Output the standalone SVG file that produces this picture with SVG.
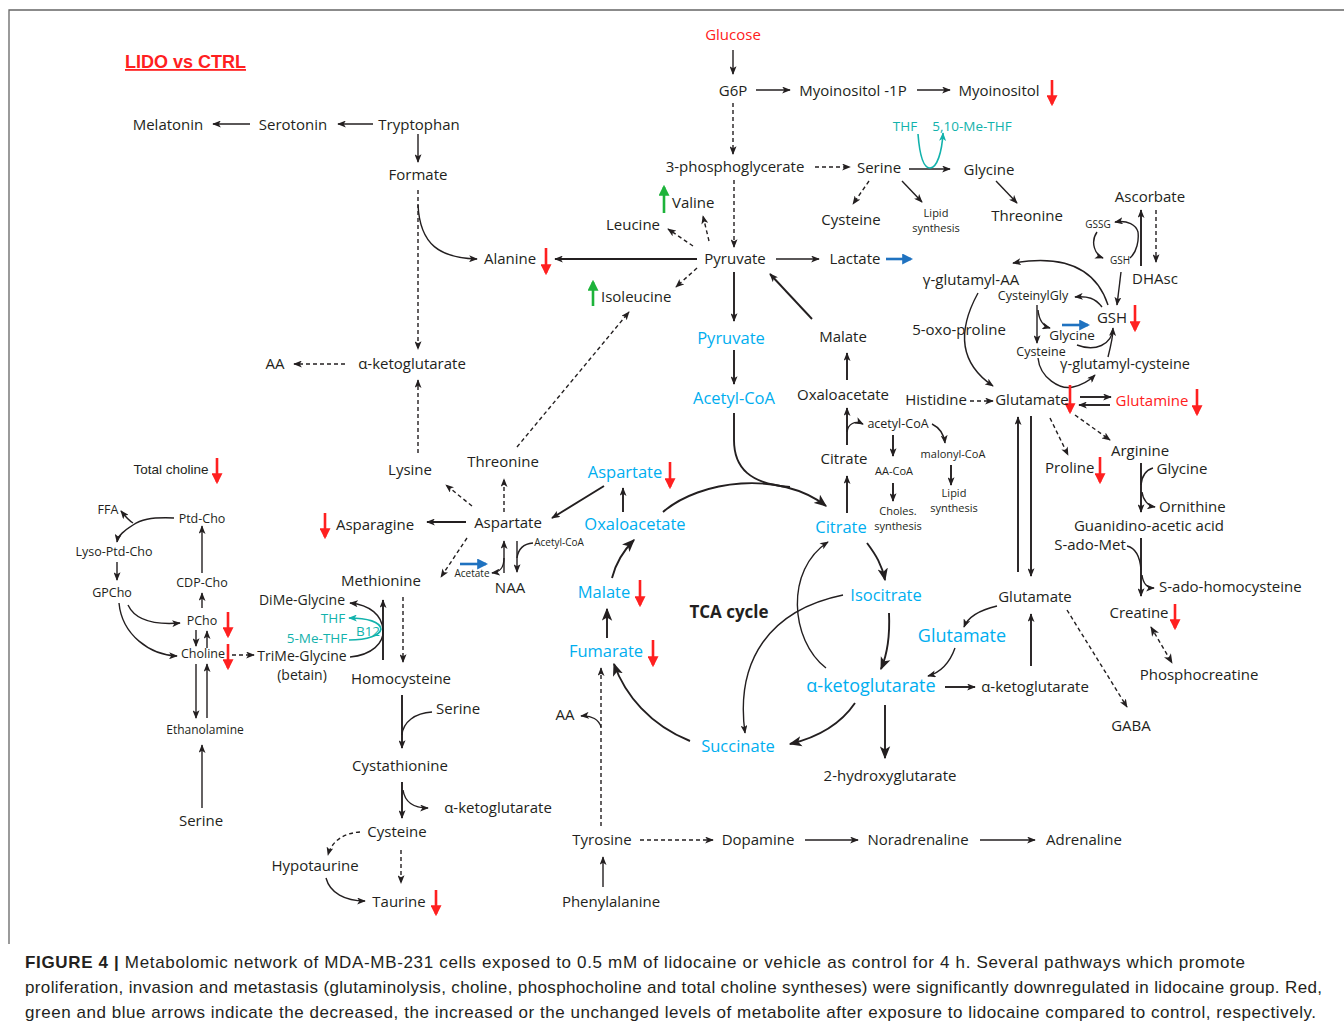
<svg xmlns="http://www.w3.org/2000/svg" width="1344" height="1027" viewBox="0 0 1344 1027">
<style>
text{font-family:"Open Sans","Noto Sans",sans-serif;font-size:15px;fill:#231f20;text-anchor:middle}
.s{font-size:12.5px}.xs{font-size:11px}.xxs{font-size:10px}
.c{fill:#00aeef;font-size:16.5px}.cb{fill:#00aeef;font-size:18px}
.r{fill:#ff2020}.tl{fill:#12b2ac;font-size:13.5px}
.st{text-anchor:start}
.cap{font-family:"Liberation Sans",Arial,sans-serif;font-size:17px;text-anchor:start}
.l{fill:none;stroke:#231f20;stroke-width:1.4}
.k{fill:none;stroke:#231f20;stroke-width:1.9}
.d{stroke-dasharray:4,3}
.red{fill:none;stroke:#ff2020;stroke-width:2.6}
.grn{fill:none;stroke:#1db33a;stroke-width:2.6}
.blu{fill:none;stroke:#1f72c0;stroke-width:2.6}
.tea{fill:none;stroke:#12b2ac;stroke-width:1.6}
</style>
<defs>
<marker id="a" viewBox="0 0 10 8" refX="9" refY="4" markerWidth="9" markerHeight="7" markerUnits="userSpaceOnUse" orient="auto"><path d="M0,0L10,4L0,8L2.5,4z" fill="#231f20"/></marker>
<marker id="as" viewBox="0 0 10 8" refX="9" refY="4" markerWidth="10" markerHeight="8" markerUnits="userSpaceOnUse" orient="auto-start-reverse"><path d="M0,0L10,4L0,8L2.5,4z" fill="#231f20"/></marker>
<marker id="aL" viewBox="0 0 10 8" refX="9" refY="4" markerWidth="13" markerHeight="11" markerUnits="userSpaceOnUse" orient="auto"><path d="M0,0L10,4L0,8L2.5,4z" fill="#231f20"/></marker>
<marker id="ar" viewBox="0 0 10 10" refX="8" refY="5" markerWidth="11" markerHeight="11" markerUnits="userSpaceOnUse" orient="auto"><path d="M0,0L10,5L0,10z" fill="#ff2020"/></marker>
<marker id="ag" viewBox="0 0 10 10" refX="8" refY="5" markerWidth="11" markerHeight="11" markerUnits="userSpaceOnUse" orient="auto"><path d="M0,0L10,5L0,10z" fill="#1db33a"/></marker>
<marker id="ab" viewBox="0 0 10 10" refX="8" refY="5" markerWidth="11" markerHeight="11" markerUnits="userSpaceOnUse" orient="auto"><path d="M0,0L10,5L0,10z" fill="#1f72c0"/></marker>
<marker id="at" viewBox="0 0 10 8" refX="9" refY="4" markerWidth="9" markerHeight="7" markerUnits="userSpaceOnUse" orient="auto"><path d="M0,0L10,4L0,8L2.5,4z" fill="#12b2ac"/></marker>
</defs>
<rect width="1344" height="1027" fill="#fff"/>
<path d="M9,944V10H1344" fill="none" stroke="#666" stroke-width="1.3"/>
<g id="title"><text x="125" y="68" class="st" style="font-family:'Liberation Sans',Arial,sans-serif;font-size:18px;font-weight:bold;fill:#ff2020;text-decoration:underline">LIDO vs CTRL</text></g>

<g id="connectors">
<path class="l" marker-end="url(#a)" d="M250,124H213"/>
<path class="l" marker-end="url(#a)" d="M373,124H338"/>
<path class="l" marker-end="url(#a)" d="M418,134V162"/>
<path class="l d" marker-end="url(#a)" d="M418,190V349"/>
<path class="l" marker-end="url(#a)" d="M418,205C420,245 440,258 477,259"/>
<path class="l d" marker-end="url(#a)" d="M345,364H294"/>
<path class="l d" marker-end="url(#a)" d="M418,453V380"/>
<path class="l" marker-end="url(#a)" d="M733,50V74"/>
<path class="l" marker-end="url(#a)" d="M756,90H790"/>
<path class="l" marker-end="url(#a)" d="M917,90H950"/>
<path class="l d" marker-end="url(#a)" d="M733,103V154"/>
<path class="l d" marker-end="url(#a)" d="M815,167H850"/>
<path class="l d" marker-end="url(#a)" d="M734,180V247"/>
<path class="l" marker-end="url(#a)" d="M909,169H950"/>
<path class="tea" marker-end="url(#at)" d="M918,134C920,160 925,168 930,168C937,168 942,152 943,133"/>
<path class="l d" marker-end="url(#a)" d="M869,181L853,204"/>
<path class="l" marker-end="url(#a)" d="M902,181L922,202"/>
<path class="l" marker-end="url(#a)" d="M996,181L1017,203"/>
<path class="l d" marker-end="url(#a)" d="M693,246L668,229"/>
<path class="l d" marker-end="url(#a)" d="M709,241L703,216"/>
<path class="l d" marker-end="url(#a)" d="M697,268L676,287"/>
<path class="k" marker-end="url(#a)" d="M697,259H555"/>
<path class="l" marker-end="url(#a)" d="M776,259H819"/>
<path class="blu" marker-end="url(#ab)" d="M886,259H911"/>
<path class="k" marker-end="url(#a)" d="M812,319L770,274"/>
<path class="k" marker-end="url(#a)" d="M734,272V321"/>
<path class="k" marker-end="url(#a)" d="M734,350V384"/>
<path class="k" d="M734,413V440C734,468 750,484 790,487"/>
<path class="k" marker-end="url(#aL)" d="M663,512C700,480 780,470 826,506"/>
<path class="k" marker-end="url(#a)" d="M847,380V353"/>
<path class="k" marker-end="url(#a)" d="M847,445V408"/>
<path class="l" marker-end="url(#a)" d="M847,432C848,424 855,420 863,424"/>
<path class="l" marker-end="url(#a)" d="M932,424C940,428 944,434 945,443"/>
<path class="k" marker-end="url(#a)" d="M893,435V456"/>
<path class="k" marker-end="url(#a)" d="M893,483V501"/>
<path class="k" marker-end="url(#a)" d="M951,465V485"/>
<path class="k" marker-end="url(#a)" d="M847,513V476"/>
<path class="k" marker-end="url(#aL)" d="M867,543C876,555 882,565 885,580"/>
<path class="k" marker-end="url(#aL)" d="M889,613C890,635 887,655 881,669"/>
<path class="l" marker-end="url(#a)" d="M826,668C790,640 785,570 828,542"/>
<path class="l" marker-end="url(#a)" d="M843,595C770,610 735,660 745,733"/>
<path class="k" marker-end="url(#aL)" d="M855,703C840,725 815,738 790,744"/>
<path class="k" marker-end="url(#aL)" d="M885,705V758"/>
<path class="k" marker-end="url(#aL)" d="M690,741C650,725 625,695 614,664"/>
<path class="k" marker-end="url(#aL)" d="M607,638V609"/>
<path class="k" marker-end="url(#aL)" d="M612,578C616,562 624,550 634,540"/>
<path class="k" marker-end="url(#a)" d="M623,512V488"/>
<path class="k" marker-end="url(#a)" d="M604,486L552,518"/>
<path class="k" marker-end="url(#a)" d="M466,522H427"/>
<path class="l d" marker-end="url(#a)" d="M504,512V479"/>
<path class="l d" marker-end="url(#a)" d="M517,447L629,312"/>
<path class="l d" marker-end="url(#a)" d="M472,506L446,485"/>
<path class="l d" marker-end="url(#a)" d="M467,538L441,577"/>
<path class="l" marker-end="url(#a)" d="M504,573V541"/>
<path class="l" marker-end="url(#a)" d="M517,541V572"/>
<path class="l" d="M533,543C522,544 518,550 517,558"/>
<path class="l" marker-end="url(#a)" d="M504,558C504,568 500,572 492,573"/>
<path class="blu" marker-end="url(#ab)" d="M460,564H486"/>
<path class="l d" marker-end="url(#a)" d="M403,597V662"/>
<path class="k" marker-end="url(#a)" d="M383,660V600"/>
<path class="l" marker-end="url(#a)" d="M350,657C372,655 384,643 383,630C382,615 370,605 350,603"/>
<path class="tea" marker-end="url(#at)" d="M349,640C368,640 380,635 381,629C380,622 368,618 349,618"/>
<path class="k" marker-end="url(#a)" d="M402,695V748"/>
<path class="l" d="M432,712C415,713 403,722 402,735"/>
<path class="k" marker-end="url(#a)" d="M402,782V818"/>
<path class="l" marker-end="url(#a)" d="M403,790C405,803 415,808 428,808"/>
<path class="l d" marker-end="url(#a)" d="M360,832C345,833 332,840 328,855"/>
<path class="l d" marker-end="url(#a)" d="M401,850V883"/>
<path class="l" marker-end="url(#a)" d="M326,878C330,893 345,901 365,901"/>
<path class="l d" marker-end="url(#a)" d="M601,826V668"/>
<path class="l" marker-end="url(#a)" d="M601,727C599,720 592,715 581,716"/>
<path class="l d" marker-end="url(#a)" d="M640,840H713"/>
<path class="l" marker-end="url(#a)" d="M805,840H858"/>
<path class="l" marker-end="url(#a)" d="M980,840H1035"/>
<path class="l" marker-end="url(#a)" d="M603,887V857"/>
<path class="l" marker-end="url(#a)" d="M174,518C150,517 140,520 133,525C125,530 118,535 117,542"/>
<path class="l" marker-end="url(#a)" d="M133,523C128,520 125,516 121,511"/>
<path class="l" marker-end="url(#a)" d="M117,562V580"/>
<path class="l" marker-end="url(#a)" d="M128,605C135,620 155,625 180,623"/>
<path class="l" marker-end="url(#a)" d="M119,603C122,635 150,655 177,656"/>
<path class="l" marker-end="url(#a)" d="M202,608V593"/>
<path class="l" marker-end="url(#a)" d="M202,573V526"/>
<path class="l" marker-end="url(#a)" d="M196,630V646"/>
<path class="l" marker-end="url(#a)" d="M207,648V631"/>
<path class="l" marker-end="url(#a)" d="M196,664V718"/>
<path class="l" marker-end="url(#a)" d="M207,718V664"/>
<path class="l" marker-end="url(#a)" d="M202,808V745"/>
<path class="l d" marker-end="url(#a)" d="M232,655H254"/>
<path class="l d" marker-end="url(#a)" d="M970,401H993"/>
<path class="k" marker-end="url(#a)" d="M1080,397H1111"/>
<path class="k" marker-end="url(#a)" d="M1110,405H1079"/>
<path class="l d" marker-end="url(#a)" d="M1050,418L1068,455"/>
<path class="l d" marker-end="url(#a)" d="M1075,415L1110,440"/>
<path class="k" marker-end="url(#a)" d="M1141,463V512"/>
<path class="l" d="M1153,468C1146,470 1142,475 1141,485"/>
<path class="l" marker-end="url(#a)" d="M1142,492C1143,500 1148,506 1155,507"/>
<path class="k" marker-end="url(#a)" d="M1141,538V596"/>
<path class="l" d="M1127,546C1135,548 1140,555 1141,570"/>
<path class="l" marker-end="url(#a)" d="M1142,575C1143,583 1147,588 1154,588"/>
<path class="l d" marker-start="url(#as)" marker-end="url(#as)" d="M1151,627L1172,663"/>
<path class="k" marker-end="url(#a)" d="M1018,572V417"/>
<path class="k" marker-end="url(#a)" d="M1031,416V576"/>
<path class="l" marker-end="url(#a)" d="M997,606C980,610 968,617 964,627"/>
<path class="l" marker-end="url(#a)" d="M955,648C950,662 942,672 928,676"/>
<path class="k" marker-end="url(#a)" d="M1031,666V614"/>
<path class="k" marker-end="url(#a)" d="M945,687H975"/>
<path class="l d" marker-end="url(#a)" d="M1067,610L1127,707"/>
<path class="l" marker-end="url(#a)" d="M1108,305C1095,265 1060,255 1013,263"/>
<path class="l" marker-end="url(#a)" d="M978,293C955,335 962,365 993,386"/>
<path class="l" marker-end="url(#a)" d="M1102,307C1095,298 1088,296 1075,297"/>
<path class="l" marker-end="url(#a)" d="M1037,305V343"/>
<path class="l" marker-end="url(#a)" d="M1038,310C1039,320 1043,326 1050,328"/>
<path class="l" marker-end="url(#a)" d="M1077,345C1095,352 1112,345 1113,328"/>
<path class="l" d="M1108,357C1111,345 1113,335 1113,330"/>
<path class="l" marker-end="url(#a)" d="M1038,358C1040,378 1060,390 1073,387C1082,385 1090,380 1095,375"/>
<path class="blu" marker-end="url(#ab)" d="M1062,325H1088"/>
<path class="l" marker-end="url(#a)" d="M1121,272L1117,305"/>
<path class="k" marker-end="url(#a)" d="M1141,266V210"/>
<path class="l d" marker-end="url(#a)" d="M1156,210V262"/>
<path class="l" marker-end="url(#a)" d="M1130,258C1137,252 1139,240 1138,232C1136,225 1128,220 1115,222"/>
<path class="l" marker-end="url(#a)" d="M1097,232C1090,242 1095,255 1103,258"/>
</g>

<g id="level-arrows">
<path class="red" marker-end="url(#ar)" d="M1052,80V104"/>
<path class="red" marker-end="url(#ar)" d="M546,248V273"/>
<path class="red" marker-end="url(#ar)" d="M217,458V482"/>
<path class="red" marker-end="url(#ar)" d="M670,462V487"/>
<path class="red" marker-end="url(#ar)" d="M325,513V537"/>
<path class="red" marker-end="url(#ar)" d="M640,580V605"/>
<path class="red" marker-end="url(#ar)" d="M653,640V665"/>
<path class="red" marker-end="url(#ar)" d="M228,612V636"/>
<path class="red" marker-end="url(#ar)" d="M228,644V668"/>
<path class="red" marker-end="url(#ar)" d="M436,890V914"/>
<path class="red" marker-end="url(#ar)" d="M1135,305V330"/>
<path class="red" marker-end="url(#ar)" d="M1070,385V412"/>
<path class="red" marker-end="url(#ar)" d="M1197,389V414"/>
<path class="red" marker-end="url(#ar)" d="M1100,457V482"/>
<path class="red" marker-end="url(#ar)" d="M1175,604V628"/>
<path class="grn" marker-end="url(#ag)" d="M664,213V187"/>
<path class="grn" marker-end="url(#ag)" d="M593,306V282"/>
</g>

<g id="n-melatonin"><text x="168" y="130">Melatonin</text></g>
<g id="n-serotonin"><text x="293" y="130">Serotonin</text></g>
<g id="n-tryptophan"><text x="419" y="130">Tryptophan</text></g>
<g id="n-formate"><text x="418" y="180">Formate</text></g>
<g id="n-akg1"><text x="412" y="369">α-ketoglutarate</text></g>
<g id="n-aa1"><text x="275" y="369">AA</text></g>
<g id="n-lysine"><text x="410" y="475">Lysine</text></g>
<g id="n-totalcholine"><text x="171" y="474" style="font-family:'Liberation Sans',Arial,sans-serif;font-size:13.5px">Total choline</text></g>
<g id="n-glucose"><text x="733" y="40" class="r">Glucose</text></g>
<g id="n-g6p"><text x="733" y="96">G6P</text></g>
<g id="n-myo1p"><text x="853" y="96">Myoinositol -1P</text></g>
<g id="n-myo"><text x="999" y="96">Myoinositol</text></g>
<g id="n-3pg"><text x="735" y="172">3-phosphoglycerate</text></g>
<g id="n-serine1"><text x="879" y="173">Serine</text></g>
<g id="n-glycine1"><text x="989" y="175">Glycine</text></g>
<g id="n-thf1"><text x="905" y="131" class="tl">THF</text></g>
<g id="n-mthf1"><text x="972" y="131" class="tl">5,10-Me-THF</text></g>
<g id="n-cysteine1"><text x="851" y="225">Cysteine</text></g>
<g id="n-lipid1"><text x="936" y="217" class="xs">Lipid</text><text x="936" y="232" class="xs">synthesis</text></g>
<g id="n-threonine1"><text x="1027" y="221">Threonine</text></g>
<g id="n-ascorbate"><text x="1150" y="202">Ascorbate</text></g>
<g id="n-gssg"><text x="1098" y="228" class="xxs">GSSG</text></g>
<g id="n-gsh-s"><text x="1120" y="264" class="xxs">GSH</text></g>
<g id="n-dhasc"><text x="1155" y="284">DHAsc</text></g>
<g id="n-valine"><text x="672" y="208" class="st">Valine</text></g>
<g id="n-leucine"><text x="633" y="230">Leucine</text></g>
<g id="n-alanine"><text x="510" y="264">Alanine</text></g>
<g id="n-pyruvate"><text x="735" y="264">Pyruvate</text></g>
<g id="n-lactate"><text x="855" y="264">Lactate</text></g>
<g id="n-isoleucine"><text x="601" y="302" class="st">Isoleucine</text></g>
<g id="n-ggaa"><text x="971" y="285">γ-glutamyl-AA</text></g>
<g id="n-cysgly"><text x="1033" y="300" class="s">CysteinylGly</text></g>
<g id="n-gsh"><text x="1112" y="323">GSH</text></g>
<g id="n-oxopro"><text x="959" y="335">5-oxo-proline</text></g>
<g id="n-glycine2"><text x="1072" y="340" style="font-size:13.5px">Glycine</text></g>
<g id="n-cysteine2"><text x="1041" y="356" class="s">Cysteine</text></g>
<g id="n-ggcys"><text x="1125" y="369" style="font-size:14.5px">γ-glutamyl-cysteine</text></g>
<g id="n-pyruvate-b"><text x="731" y="344" class="c">Pyruvate</text></g>
<g id="n-acetylcoa-b"><text x="734" y="404" class="c">Acetyl-CoA</text></g>
<g id="n-malate1"><text x="843" y="342">Malate</text></g>
<g id="n-oaa1"><text x="843" y="400">Oxaloacetate</text></g>
<g id="n-citrate1"><text x="844" y="464">Citrate</text></g>
<g id="n-acetylcoa-s"><text x="898" y="428" class="s">acetyl-CoA</text></g>
<g id="n-malonyl"><text x="953" y="458" class="xs">malonyl-CoA</text></g>
<g id="n-aacoa"><text x="894" y="475" class="xs">AA-CoA</text></g>
<g id="n-choles"><text x="898" y="515" class="xs">Choles.</text><text x="898" y="530" class="xs">synthesis</text></g>
<g id="n-lipid2"><text x="954" y="497" class="xs">Lipid</text><text x="954" y="512" class="xs">synthesis</text></g>
<g id="n-histidine"><text x="936" y="405">Histidine</text></g>
<g id="n-glutamate1"><text x="1032" y="405">Glutamate</text></g>
<g id="n-glutamine"><text x="1152" y="406" class="r">Glutamine</text></g>
<g id="n-proline"><text x="1045" y="473" class="st">Proline</text></g>
<g id="n-arginine"><text x="1140" y="456">Arginine</text></g>
<g id="n-glycine3"><text x="1182" y="474">Glycine</text></g>
<g id="n-ornithine"><text x="1159" y="512" class="st">Ornithine</text></g>
<g id="n-guan"><text x="1149" y="531">Guanidino-acetic acid</text></g>
<g id="n-sam"><text x="1090" y="550">S-ado-Met</text></g>
<g id="n-sah"><text x="1159" y="592" class="st">S-ado-homocysteine</text></g>
<g id="n-creatine"><text x="1139" y="618">Creatine</text></g>
<g id="n-pcreatine"><text x="1199" y="680">Phosphocreatine</text></g>
<g id="n-glutamate2"><text x="1035" y="602">Glutamate</text></g>
<g id="n-glutamate-b"><text x="962" y="642" class="cb">Glutamate</text></g>
<g id="n-akg3"><text x="1035" y="692">α-ketoglutarate</text></g>
<g id="n-gaba"><text x="1131" y="731">GABA</text></g>
<g id="n-threonine2"><text x="503" y="467">Threonine</text></g>
<g id="n-aspartate-b"><text x="625" y="478" class="c">Aspartate</text></g>
<g id="n-aspartate"><text x="508" y="528">Aspartate</text></g>
<g id="n-asparagine"><text x="375" y="530">Asparagine</text></g>
<g id="n-oaa-b"><text x="635" y="530" class="c">Oxaloacetate</text></g>
<g id="n-citrate-b"><text x="841" y="533" class="c">Citrate</text></g>
<g id="n-acetylcoa-s2"><text x="559" y="546" class="xxs">Acetyl-CoA</text></g>
<g id="n-acetate"><text x="472" y="577" class="xxs">Acetate</text></g>
<g id="n-naa"><text x="510" y="593">NAA</text></g>
<g id="n-methionine"><text x="381" y="586">Methionine</text></g>
<g id="n-dimegly"><text x="302" y="605" style="font-size:14px">DiMe-Glycine</text></g>
<g id="n-thf2"><text x="333" y="623" class="tl">THF</text></g>
<g id="n-mthf2"><text x="317" y="643" class="tl">5-Me-THF</text></g>
<g id="n-b12"><text x="368" y="636" class="tl">B12</text></g>
<g id="n-trimegly"><text x="302" y="661" style="font-size:14px">TriMe-Glycine</text><text x="302" y="680" style="font-size:14px">(betain)</text></g>
<g id="n-homocys"><text x="401" y="684">Homocysteine</text></g>
<g id="n-malate-b"><text x="604" y="598" class="c">Malate</text></g>
<g id="n-tca"><text x="729" y="618" style="font-size:17px;font-weight:bold">TCA cycle</text></g>
<g id="n-isocitrate"><text x="886" y="601" class="c">Isocitrate</text></g>
<g id="n-fumarate"><text x="606" y="657" class="c">Fumarate</text></g>
<g id="n-akg-b"><text x="871" y="692" class="cb">α-ketoglutarate</text></g>
<g id="n-succinate"><text x="738" y="752" class="c">Succinate</text></g>
<g id="n-2hg"><text x="890" y="781">2-hydroxyglutarate</text></g>
<g id="n-serine3"><text x="436" y="714" class="st">Serine</text></g>
<g id="n-cystathionine"><text x="400" y="771">Cystathionine</text></g>
<g id="n-akg2"><text x="498" y="813">α-ketoglutarate</text></g>
<g id="n-cysteine3"><text x="397" y="837">Cysteine</text></g>
<g id="n-hypotaurine"><text x="315" y="871">Hypotaurine</text></g>
<g id="n-taurine"><text x="399" y="907">Taurine</text></g>
<g id="n-aa2"><text x="565" y="720">AA</text></g>
<g id="n-tyrosine"><text x="602" y="845">Tyrosine</text></g>
<g id="n-dopamine"><text x="758" y="845">Dopamine</text></g>
<g id="n-noradrenaline"><text x="918" y="845">Noradrenaline</text></g>
<g id="n-adrenaline"><text x="1084" y="845">Adrenaline</text></g>
<g id="n-phenylalanine"><text x="611" y="907">Phenylalanine</text></g>
<g id="n-ffa"><text x="108" y="514" class="s">FFA</text></g>
<g id="n-ptdcho"><text x="202" y="523" class="s">Ptd-Cho</text></g>
<g id="n-lyso"><text x="114" y="556" class="s">Lyso-Ptd-Cho</text></g>
<g id="n-gpcho"><text x="112" y="597" class="s">GPCho</text></g>
<g id="n-cdpcho"><text x="202" y="587" class="s">CDP-Cho</text></g>
<g id="n-pcho"><text x="202" y="625" class="s">PCho</text></g>
<g id="n-choline"><text x="203" y="658" class="s">Choline</text></g>
<g id="n-ethanolamine"><text x="205" y="734" style="font-size:12px">Ethanolamine</text></g>
<g id="n-serine2"><text x="201" y="826">Serine</text></g>

<g id="caption">
<text x="25" y="968" class="cap" textLength="1220" lengthAdjust="spacing"><tspan style="font-weight:bold">FIGURE 4 |</tspan> Metabolomic network of MDA-MB-231 cells exposed to 0.5 mM of lidocaine or vehicle as control for 4 h. Several pathways which promote</text>
<text x="25" y="993" class="cap" textLength="1297" lengthAdjust="spacing">proliferation, invasion and metastasis (glutaminolysis, choline, phosphocholine and total choline syntheses) were significantly downregulated in lidocaine group. Red,</text>
<text x="25" y="1018" class="cap" textLength="1291" lengthAdjust="spacing">green and blue arrows indicate the decreased, the increased or the unchanged levels of metabolite after exposure to lidocaine compared to control, respectively.</text>
</g>
</svg>
